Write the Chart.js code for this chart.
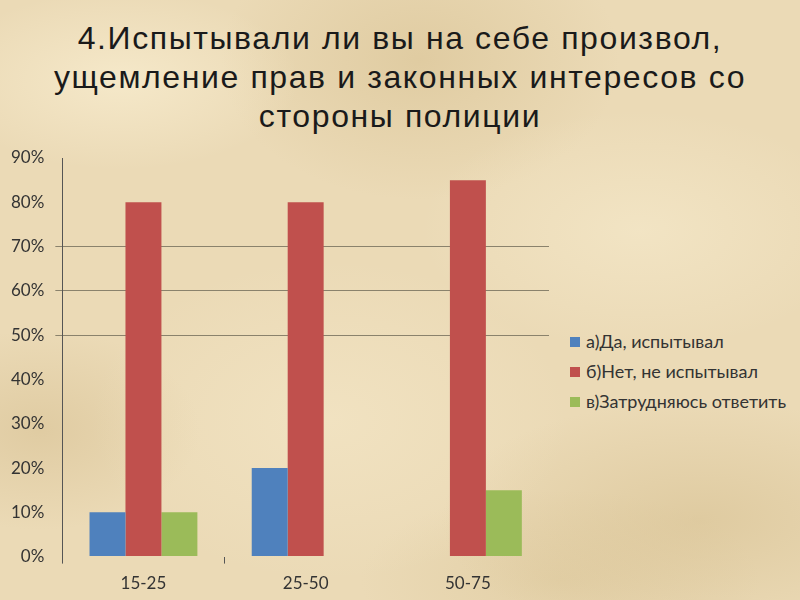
<!DOCTYPE html>
<html>
<head>
<meta charset="utf-8">
<script src="https://cdn.jsdelivr.net/npm/chart.js@4.4.1/dist/chart.umd.min.js"></script>
<style>
  html, body { margin: 0; padding: 0; }
  body {
    width: 800px; height: 600px; position: relative; overflow: hidden;
    background-color: #ebdab6;
    background-image:
      radial-gradient(ellipse 180px 90px at 120px 80px, rgba(252,242,214,0.6), rgba(252,242,214,0) 100%),
      radial-gradient(ellipse 220px 120px at 640px 230px, rgba(250,240,212,0.45), rgba(250,240,212,0) 100%),
      radial-gradient(ellipse 200px 140px at 420px 60px, rgba(210,186,136,0.45), rgba(210,186,136,0) 100%),
      radial-gradient(ellipse 260px 120px at 700px 520px, rgba(208,184,134,0.45), rgba(208,184,134,0) 100%),
      radial-gradient(ellipse 240px 160px at 330px 420px, rgba(248,236,206,0.45), rgba(248,236,206,0) 100%),
      radial-gradient(ellipse 160px 100px at 40px 430px, rgba(210,186,138,0.45), rgba(210,186,138,0) 100%),
      radial-gradient(ellipse 200px 90px at 560px 580px, rgba(214,192,144,0.4), rgba(214,192,144,0) 100%);
  }
  #title {
    position: absolute; left: 0; top: 19px; width: 800px;
    text-align: center; font-family: "Liberation Sans", Arial, sans-serif;
    font-size: 32px; line-height: 39px; letter-spacing: 1.6px; color: #1a1a1a;
  }
  #wrap { position: absolute; left: 0; top: 135px; width: 560px; height: 469px; }
  #legend {
    position: absolute; left: 570px; top: 330px;
    font-family: Lato, "Open Sans", sans-serif; font-size: 18px; color: #333;
  }
  #legend div { height: 30px; line-height: 22px; white-space: nowrap; }
  #legend span.box {
    display: inline-block; width: 10px; height: 10px; margin-right: 6px;
    vertical-align: 1px;
  }
</style>
</head>
<body>
<div id="title">4.Испытывали ли вы на себе произвол,<br>ущемление прав и законных интересов со<br>стороны полиции</div>
<div id="wrap"><canvas id="chart"></canvas></div>
<div id="legend"></div>
<script>
// values, in percent
const categories = ['15-25', '25-50', '50-75'];
const seriesNames = ['а)Да, испытывал', 'б)Нет, не испытывал', 'в)Затрудняюсь ответить'];
const seriesYes = [10, 20, 0];
const seriesNo = [80, 80, 85];
const seriesUnsure = [10, 0, 15];
const seriesColors = ['#4f81bd', '#c0504d', '#9bbb59'];
const gridValues = [50, 60, 70]; // only these gridlines are visible in the picture

const values = [seriesYes, seriesNo, seriesUnsure];
const tickFont = { family: 'Lato, "Open Sans", sans-serif', size: 17 };

const ctx = document.getElementById('chart');
const chart = new Chart(ctx, {
    type: 'bar',
    data: {
        labels: categories,
        datasets: seriesNames.map((name, i) => ({
            label: name,
            data: values[i],
            backgroundColor: seriesColors[i],
            borderWidth: 0,
            barPercentage: 1,
            categoryPercentage: 0.665
        }))
    },
    options: {
        responsive: true,
        maintainAspectRatio: false,
        animation: false,
        layout: { padding: { left: 0, right: 11, top: 23, bottom: 0 } },
        plugins: {
            legend: { display: false },
            tooltip: { enabled: false }
        },
        scales: {
            x: {
                border: { display: false },
                grid: {
                    drawOnChartArea: false,
                    tickLength: 7,
                    color: (c) => (c.index <= 1 ? '#555' : 'rgba(0,0,0,0)')
                },
                ticks: { padding: 10, color: '#333', font: tickFont }
            },
            y: {
                min: 0,
                max: 90,
                border: { display: true, color: '#555' },
                grid: {
                    tickLength: 7,
                    color: (c) => (c.tick && gridValues.includes(c.tick.value) ? '#8a826c' : 'rgba(0,0,0,0)')
                },
                ticks: {
                    stepSize: 10,
                    padding: 11,
                    color: '#333',
                    font: tickFont,
                    callback: (v) => v + '%'
                }
            }
        }
    }
});

// legend, built from the same series arrays
const legendEl = document.getElementById('legend');
seriesNames.forEach((name, i) => {
    const row = document.createElement('div');
    row.innerHTML = '<span class="box" style="background:' + seriesColors[i] + '"></span>' + name;
    legendEl.appendChild(row);
});
</script>
</body>
</html>
